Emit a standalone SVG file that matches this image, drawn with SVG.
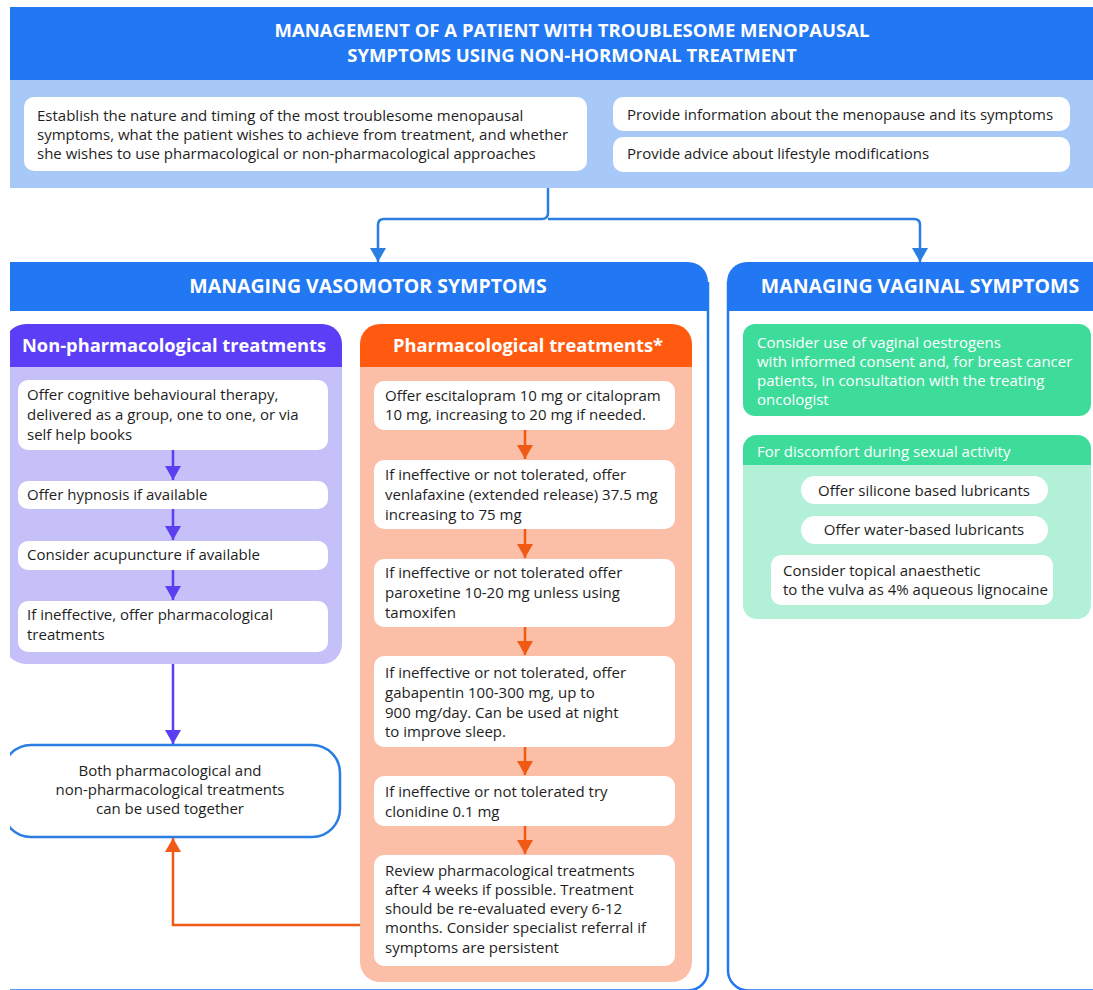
<svg xmlns="http://www.w3.org/2000/svg" width="1093" height="990" viewBox="0 0 1093 990">
<style>
text{font-family:"Open Sans","Noto Sans","Liberation Sans",sans-serif;}
.t{font-size:15px;fill:#1e1e1e;}
.tw{font-size:15px;fill:#ffffff;}
.h{font-size:19.5px;font-weight:bold;fill:#ffffff;}
.ht{font-size:18.5px;font-weight:bold;fill:#ffffff;}
.hs{font-size:18.3px;font-weight:bold;fill:#ffffff;}
.box{fill:#ffffff;}
.c{text-anchor:middle;}
.blue{stroke:#2a7de1;stroke-width:2.5;fill:none;}
.pur{stroke:#5b3ef2;stroke-width:2.5;fill:none;}
.org{stroke:#f05a14;stroke-width:2.5;fill:none;}
</style>
<defs>
<clipPath id="clip"><rect x="10" y="0" width="1083" height="990"/></clipPath>
<marker id="ab" markerUnits="userSpaceOnUse" markerWidth="16" markerHeight="16" refX="14" refY="8" orient="auto"><path d="M0,0 L14,8 L0,16 z" fill="#2a7de1"/></marker>
<marker id="ap" markerUnits="userSpaceOnUse" markerWidth="16" markerHeight="16" refX="14" refY="8" orient="auto"><path d="M0,0 L14,8 L0,16 z" fill="#5b3ef2"/></marker>
<marker id="ao" markerUnits="userSpaceOnUse" markerWidth="16" markerHeight="16" refX="14" refY="8" orient="auto"><path d="M0,0 L14,8 L0,16 z" fill="#f05a14"/></marker>
</defs>
<rect width="1093" height="990" fill="#ffffff"/>
<g clip-path="url(#clip)">

<g id="top">
<rect x="10" y="7" width="1083" height="73" fill="#2277f2"/>
<rect x="10" y="80" width="1083" height="108" fill="#a8c9f7"/>
<text class="ht c" x="572" y="37">MANAGEMENT OF A PATIENT WITH TROUBLESOME MENOPAUSAL</text>
<text class="ht c" x="572" y="62">SYMPTOMS USING NON-HORMONAL TREATMENT</text>
</g>
<g id="establish">
<rect class="box" x="24" y="97" width="563" height="74" rx="10"/>
<text class="t" x="37" y="121">Establish the nature and timing of the most troublesome menopausal</text>
<text class="t" x="37" y="140">symptoms, what the patient wishes to achieve from treatment, and whether</text>
<text class="t" x="37" y="159">she wishes to use pharmacological or non-pharmacological approaches</text>
</g>
<g id="info">
<rect class="box" x="613" y="97" width="457" height="34" rx="10"/>
<text class="t" x="627" y="120">Provide information about the menopause and its symptoms</text>
</g>
<g id="lifestyle">
<rect class="box" x="613" y="137" width="457" height="35" rx="10"/>
<text class="t" x="627" y="159">Provide advice about lifestyle modifications</text>
</g>

<g id="vasomotor">
<path d="M10,262 H688 A20,20 0 0 1 708,282 V311 H10 Z" fill="#2277f2"/>
<path d="M708,282 V970 A20,20 0 0 1 688,990.5 H4" stroke="#2277f2" stroke-width="2.5" fill="none"/>
<text class="h c" x="368" y="293">MANAGING VASOMOTOR SYMPTOMS</text>
</g>
<g id="vaginal">
<path d="M727,311 V282 A20,20 0 0 1 747,262 H1093 V311 Z" fill="#2277f2"/>
<path d="M728,282 V970 A20,20 0 0 0 748,990.5 H1093" stroke="#2277f2" stroke-width="2.5" fill="none"/>
<text class="h c" x="920" y="293">MANAGING VAGINAL SYMPTOMS</text>
</g>

<g id="nonpharm">
<path d="M4,346 A22,22 0 0 1 26,324 H322 A20,20 0 0 1 342,344 V367 H4 Z" fill="#5b3ef5"/>
<path d="M4,367 H342 V644 A20,20 0 0 1 322,664 H26 A22,22 0 0 1 4,642 Z" fill="#c5c0f8"/>
<text class="hs" x="22" y="352">Non-pharmacological treatments</text>
</g>
<g id="cbt">
<rect class="box" x="18" y="380" width="310" height="70" rx="10"/>
<text class="t" x="27" y="400">Offer cognitive behavioural therapy,</text>
<text class="t" x="27" y="420">delivered as a group, one to one, or via</text>
<text class="t" x="27" y="440">self help books</text>
</g>
<g id="hypnosis">
<rect class="box" x="18" y="481" width="310" height="28" rx="10"/>
<text class="t" x="27" y="500">Offer hypnosis if available</text>
</g>
<g id="acupuncture">
<rect class="box" x="18" y="541" width="310" height="29" rx="10"/>
<text class="t" x="27" y="560">Consider acupuncture if available</text>
</g>
<g id="ineffective">
<rect class="box" x="18" y="601" width="310" height="51" rx="10"/>
<text class="t" x="27" y="620">If ineffective, offer pharmacological</text>
<text class="t" x="27" y="640">treatments</text>
</g>

<g id="both">
<rect x="3" y="745" width="337" height="92" rx="28" fill="#ffffff" stroke="#2a7de1" stroke-width="2.5"/>
<text class="t c" x="170" y="776">Both pharmacological and</text>
<text class="t c" x="170" y="795">non-pharmacological treatments</text>
<text class="t c" x="170" y="814">can be used together</text>
</g>

<g id="pharm">
<path d="M360,344 A20,20 0 0 1 380,324 H672 A20,20 0 0 1 692,344 V367 H360 Z" fill="#ff5a10"/>
<path d="M360,367 H692 V962 A20,20 0 0 1 672,982 H380 A20,20 0 0 1 360,962 Z" fill="#fbbfa7"/>
<text class="hs c" x="528" y="352">Pharmacological treatments*</text>
</g>
<g id="escitalopram">
<rect class="box" x="374" y="381" width="301" height="49" rx="10"/>
<text class="t" x="385" y="401">Offer escitalopram 10 mg or citalopram</text>
<text class="t" x="385" y="420">10 mg, increasing to 20 mg if needed.</text>
</g>
<g id="venlafaxine">
<rect class="box" x="374" y="460" width="301" height="69" rx="10"/>
<text class="t" x="385" y="480">If ineffective or not tolerated, offer</text>
<text class="t" x="385" y="500">venlafaxine (extended release) 37.5 mg</text>
<text class="t" x="385" y="520">increasing to 75 mg</text>
</g>
<g id="paroxetine">
<rect class="box" x="374" y="559" width="301" height="68" rx="10"/>
<text class="t" x="385" y="578">If ineffective or not tolerated offer</text>
<text class="t" x="385" y="598">paroxetine 10-20 mg unless using</text>
<text class="t" x="385" y="618">tamoxifen</text>
</g>
<g id="gabapentin">
<rect class="box" x="374" y="656" width="301" height="91" rx="10"/>
<text class="t" x="385" y="678">If ineffective or not tolerated, offer</text>
<text class="t" x="385" y="698">gabapentin 100-300 mg, up to</text>
<text class="t" x="385" y="718">900 mg/day. Can be used at night</text>
<text class="t" x="385" y="737">to improve sleep.</text>
</g>
<g id="clonidine">
<rect class="box" x="374" y="776" width="301" height="50" rx="10"/>
<text class="t" x="385" y="797">If ineffective or not tolerated try</text>
<text class="t" x="385" y="817">clonidine 0.1 mg</text>
</g>
<g id="review">
<rect class="box" x="374" y="855" width="301" height="111" rx="10"/>
<text class="t" x="385" y="876">Review pharmacological treatments</text>
<text class="t" x="385" y="895">after 4 weeks if possible. Treatment</text>
<text class="t" x="385" y="914">should be re-evaluated every 6-12</text>
<text class="t" x="385" y="933">months. Consider specialist referral if</text>
<text class="t" x="385" y="953">symptoms are persistent</text>
</g>

<g id="oestrogens">
<rect x="743" y="324" width="348" height="92" rx="12" fill="#3ddc9b"/>
<text class="tw" x="757" y="348">Consider use of vaginal oestrogens</text>
<text class="tw" x="757" y="367">with informed consent and, for breast cancer</text>
<text class="tw" x="757" y="386">patients,  in consultation with the treating</text>
<text class="tw" x="757" y="405">oncologist</text>
</g>
<g id="discomfort">
<rect x="743" y="435" width="348" height="184" rx="14" fill="#b2f0d8"/>
<path d="M743,449 A14,14 0 0 1 757,435 H1077 A14,14 0 0 1 1091,449 V465 H743 Z" fill="#3ddc9b"/>
<text class="tw" x="757" y="457">For discomfort during sexual activity</text>
</g>
<g id="silicone">
<rect class="box" x="801" y="476" width="247" height="28" rx="14"/>
<text class="t c" x="924" y="496">Offer silicone based lubricants</text>
</g>
<g id="water">
<rect class="box" x="801" y="516" width="247" height="28" rx="14"/>
<text class="t c" x="924" y="535">Offer water-based lubricants</text>
</g>
<g id="topical">
<rect class="box" x="771" y="555" width="282" height="50" rx="10"/>
<text class="t" x="783" y="576">Consider topical anaesthetic</text>
<text class="t" x="783" y="595">to the vulva as 4% aqueous lignocaine</text>
</g>

<g id="connectors">
<path class="blue" d="M548,188 V213 Q548,219 542,219 H384 Q378,219 378,225 V262" marker-end="url(#ab)"/>
<path class="blue" d="M548,219 H914 Q920,219 920,225 V262" marker-end="url(#ab)"/>
<path class="pur" d="M173,450 V480" marker-end="url(#ap)"/>
<path class="pur" d="M173,509 V540" marker-end="url(#ap)"/>
<path class="pur" d="M173,570 V600" marker-end="url(#ap)"/>
<path class="pur" d="M173,664 V744" marker-end="url(#ap)"/>
<path class="org" d="M525,430 V459" marker-end="url(#ao)"/>
<path class="org" d="M525,529 V558" marker-end="url(#ao)"/>
<path class="org" d="M525,627 V655" marker-end="url(#ao)"/>
<path class="org" d="M525,747 V775" marker-end="url(#ao)"/>
<path class="org" d="M525,826 V854" marker-end="url(#ao)"/>
<path class="org" d="M360,925 H173 V838" marker-end="url(#ao)"/>
</g>
</g>
</svg>
